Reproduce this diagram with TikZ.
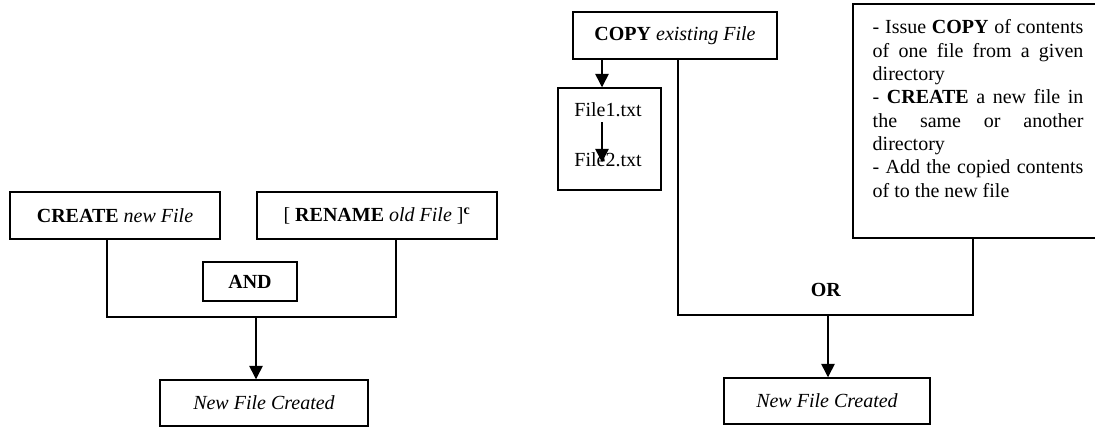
\documentclass[tikz,border=0pt]{standalone}
\usepackage{fontspec}
\setmainfont{Liberation Serif}
\usetikzlibrary{arrows.meta}
% no word breaks inside the justified note
\hyphenpenalty=10000
\exhyphenpenalty=10000
\begin{document}
\begin{tikzpicture}[x=0.75pt,y=-0.75pt,line width=1.1pt,
  txt/.style={font=\fontsize{15}{17.5}\selectfont},
  box/.style={txt,draw,rectangle,inner sep=0pt},
  arr/.style={-{Triangle[width=10pt,length=10pt]}}]
\useasboundingbox (0,0) rectangle (1095,429);

% left branch: CREATE and RENAME joined by AND
\node[box,minimum width=157.5pt,minimum height=35.25pt] (create) at (115,215.5) {\textbf{CREATE} \textit{new File}};
\node[box,minimum width=180pt,minimum height=35.25pt] (rename) at (377,215.5) {[ \textbf{RENAME} \textit{old File} ]\textsuperscript{\textbf{c}}};
\node[box,minimum width=70.5pt,minimum height=29.25pt] (and) at (250,281.5) {\textbf{AND}};
\node[box,minimum width=156pt,minimum height=34.5pt] (nfcl) at (264,403) {\textit{New File Created}};

\coordinate (jl1) at (107,317);
\coordinate (jl2) at (396,317);
\coordinate (jlm) at (256,317);
\draw (create.south -| jl1) -- (jl1) -- (jl2) -- (rename.south -| jl2);
\draw[arr] (jlm) -- (nfcl.north -| jlm);

% right branch: COPY, or a copy described step by step
\node[box,minimum width=153pt,minimum height=35.25pt] (copy) at (675,35.5) {\textbf{COPY} \textit{existing File}};
\node[box,minimum width=77.25pt,minimum height=76.5pt] (files) at (609.5,139) {};
\node[txt] (f1) at (608,110) {File1.txt};
\node[txt] (f2) at (608,160) {File2.txt};
\node[draw,rectangle,minimum width=185.25pt,minimum height=175.5pt,inner sep=0pt] (notes) at (976.5,121) {};
\node[txt,anchor=north west,text width=158pt,align=justify,inner sep=0pt] (notestext) at (872,19)
  {- Issue \textbf{COPY} of contents\linebreak of one file from a given\linebreak directory\\
   - \textbf{CREATE} a new file in\linebreak the same or another\linebreak directory\\
   - Add the copied contents\linebreak of to the new file};
\node[box,minimum width=154.5pt,minimum height=34.5pt] (nfcr) at (827,401) {\textit{New File Created}};
\node[txt] (or) at (826,290) {\textbf{OR}};

\coordinate (cf) at (602,0);
\draw[arr] (copy.south -| cf) -- (files.north -| cf);
\draw[arr] (f1.south -| cf) -- ++(0,40);

\coordinate (jr1) at (678,315);
\coordinate (jr2) at (973,315);
\coordinate (jrm) at (828,315);
\draw (copy.south -| jr1) -- (jr1) -- (jr2) -- (notes.south -| jr2);
\draw[arr] (jrm) -- (nfcr.north -| jrm);
\end{tikzpicture}
\end{document}
